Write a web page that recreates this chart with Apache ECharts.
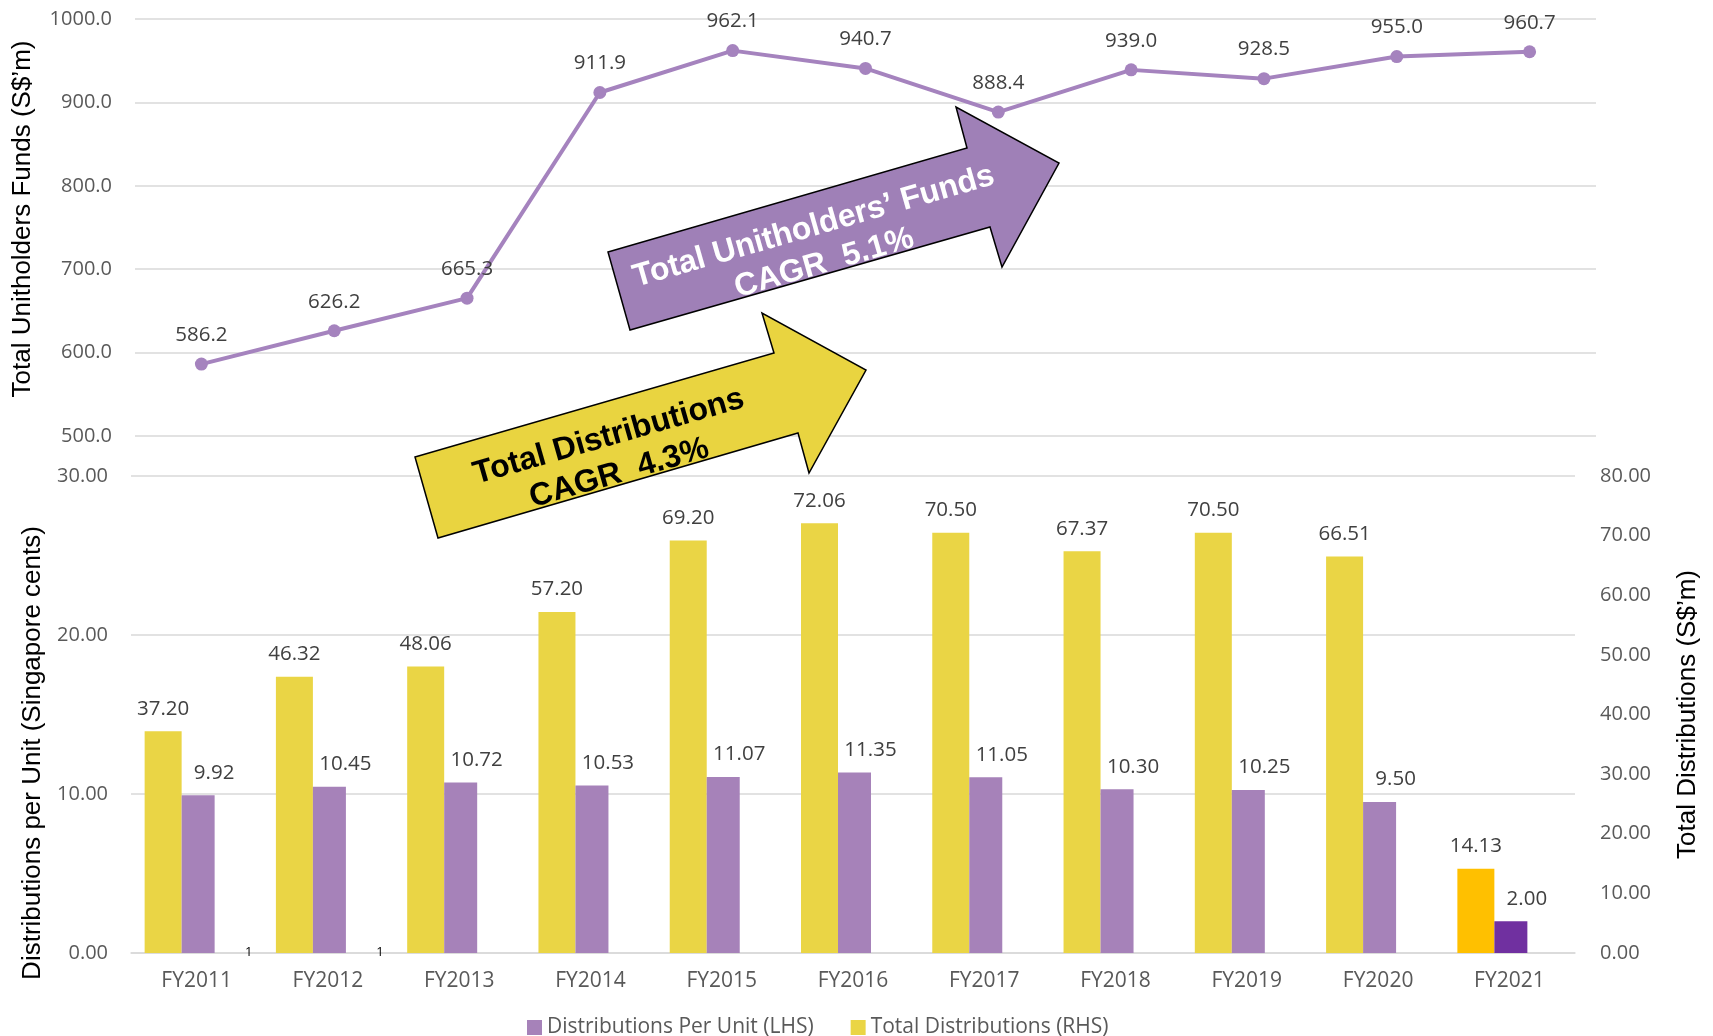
<!DOCTYPE html>
<html>
<head>
<meta charset="utf-8">
<title>Unitholders' Funds and Distributions FY2011–FY2021</title>
<script src="https://cdn.jsdelivr.net/npm/echarts@6/dist/echarts.min.js"></script>
<style>
  html, body { margin: 0; padding: 0; background: #ffffff; }
  #chart { width: 1713px; height: 1036px; }
</style>
</head>
<body>
<div id="chart"></div>
<script>
// Financial years
const years = ['FY2011', 'FY2012', 'FY2013', 'FY2014', 'FY2015', 'FY2016',
               'FY2017', 'FY2018', 'FY2019', 'FY2020', 'FY2021'];

// Total unitholders' funds, S$ million (top panel line)
const unitholdersFunds = [586.2, 626.2, 665.3, 911.9, 962.1, 940.7, 888.4, 939.0, 928.5, 955.0, 960.7];

// Distributions per unit, Singapore cents (left axis)
const distributionsPerUnit = [9.92, 10.45, 10.72, 10.53, 11.07, 11.35, 11.05, 10.30, 10.25, 9.50, 2.00];

// Total distributions, S$ million (right axis)
const totalDistributions = [37.20, 46.32, 48.06, 57.20, 69.20, 72.06, 70.50, 67.37, 70.50, 66.51, 14.13];

// Footnote markers shown at the base of the category
const footnoteRefs = ['1', '1', '', '', '', '', '', '', '', '', ''];

// Axis ticks
const fundsTicks = { min: 500, max: 1000, step: 100 };
const dpuTicks = { min: 0, max: 30, step: 10 };
const totalTicks = { min: 0, max: 80, step: 10 };

// Axis titles
const fundsTitle = 'Total Unitholders Funds (S$\u2019m)';
const dpuTitle = 'Distributions per Unit (Singapore cents)';
const totalTitle = 'Total Distributions (S$\u2019m)';

// Growth annotations
const fundsCagr = 'Total Unitholders\u2019 Funds\nCAGR  5.1%';
const distCagr = 'Total Distributions\nCAGR  4.3%';

const PURPLE = '#A682B9';
const YELLOW = '#EAD545';
const PARTIAL_YEAR = years.length - 1; // FY2021 shown in highlight colours
const FONT = '"Open Sans", "Noto Sans", sans-serif';
const TITLE_FONT = '"Liberation Sans", Arial, sans-serif';
const GRID = '#D9D9D9';
const AXIS_TEXT = '#595959';
const LABEL_TEXT = '#404040';
const LABEL_SIZE = 20.5;

const chart = echarts.init(document.getElementById('chart'), null, { renderer: 'canvas' });

const ang = 16 * Math.PI / 180;

function axisTitle(text, x, y) {
  return {
    type: 'text', z: 50, x: x, y: y, rotation: Math.PI / 2,
    style: {
      text: text, fill: '#000000', font: '26px ' + TITLE_FONT,
      align: 'center', verticalAlign: 'middle',
      textAlign: 'center', textVerticalAlign: 'middle'
    }
  };
}

const option = {
  backgroundColor: '#ffffff',
  animation: false,
  textStyle: { fontFamily: FONT },
  grid: [
    { left: 135, right: 117, top: 19, height: 417 },
    { left: 131, right: 138, top: 476, height: 477 }
  ],
  legend: {
    left: 522,
    top: 1012,
    itemWidth: 15,
    itemHeight: 15,
    itemGap: 37,
    icon: 'rect',
    textStyle: { fontFamily: FONT, fontSize: 21, color: AXIS_TEXT },
    data: ['Distributions Per Unit (LHS)', 'Total Distributions (RHS)']
  },
  xAxis: [
    {
      type: 'category', gridIndex: 0, data: years, boundaryGap: true,
      axisLine: { show: false }, axisTick: { show: false }, axisLabel: { show: false }
    },
    {
      type: 'category', gridIndex: 1, data: years, boundaryGap: true,
      axisLine: { show: true, lineStyle: { color: GRID, width: 1.5 } },
      axisTick: { show: false },
      axisLabel: { fontFamily: FONT, fontSize: 21, color: AXIS_TEXT, margin: 18 }
    }
  ],
  yAxis: [
    {
      type: 'value', gridIndex: 0,
      min: fundsTicks.min, max: fundsTicks.max, interval: fundsTicks.step,
      axisLine: { show: false }, axisTick: { show: false },
      axisLabel: { fontFamily: FONT, fontSize: 20, color: AXIS_TEXT, margin: 23,
                   formatter: v => v.toFixed(1) },
      splitLine: { lineStyle: { color: GRID, width: 1.5 } }
    },
    {
      type: 'value', gridIndex: 1,
      min: dpuTicks.min, max: dpuTicks.max, interval: dpuTicks.step,
      axisLine: { show: false }, axisTick: { show: false },
      axisLabel: { fontFamily: FONT, fontSize: 20, color: AXIS_TEXT, margin: 23,
                   formatter: v => v.toFixed(2) },
      splitLine: { lineStyle: { color: GRID, width: 1.5 } }
    },
    {
      type: 'value', gridIndex: 1, position: 'right',
      min: totalTicks.min, max: totalTicks.max, interval: totalTicks.step,
      name: totalTitle,
      nameLocation: 'middle', nameRotate: 90, nameGap: 100,
      nameTextStyle: { fontFamily: TITLE_FONT, fontSize: 26, color: '#000000' },
      axisLine: { show: false }, axisTick: { show: false },
      axisLabel: { fontFamily: FONT, fontSize: 20, color: AXIS_TEXT, margin: 25,
                   formatter: v => v.toFixed(2) },
      splitLine: { show: false }
    }
  ],
  series: [
    {
      name: 'Total Unitholders Funds',
      type: 'line',
      xAxisIndex: 0, yAxisIndex: 0,
      data: unitholdersFunds,
      symbol: 'circle', symbolSize: 13,
      lineStyle: { color: '#A583BE', width: 4 },
      itemStyle: { color: '#A583BE' },
      label: {
        show: true, position: 'top', distance: 12,
        fontFamily: FONT, fontSize: LABEL_SIZE, color: LABEL_TEXT,
        formatter: p => p.value.toFixed(1)
      },
      z: 3
    },
    {
      name: 'Total Distributions (RHS)',
      type: 'bar',
      xAxisIndex: 1, yAxisIndex: 2,
      barWidth: 37, barGap: '0%',
      itemStyle: { color: YELLOW },
      data: totalDistributions.map((v, i) =>
        i === PARTIAL_YEAR ? { value: v, itemStyle: { color: '#FFC000' } } : v),
      label: {
        show: true, position: 'top', distance: 12,
        fontFamily: FONT, fontSize: LABEL_SIZE, color: LABEL_TEXT,
        formatter: p => Number(p.value).toFixed(2)
      }
    },
    {
      name: 'Distributions Per Unit (LHS)',
      type: 'bar',
      xAxisIndex: 1, yAxisIndex: 1,
      barWidth: 33, barGap: '0%',
      itemStyle: { color: PURPLE },
      data: distributionsPerUnit.map((v, i) =>
        i === PARTIAL_YEAR ? { value: v, itemStyle: { color: '#7030A0' } } : v),
      label: {
        show: true, position: 'top', distance: 12, offset: [16, 0],
        fontFamily: FONT, fontSize: LABEL_SIZE, color: LABEL_TEXT,
        formatter: p => Number(p.value).toFixed(2)
      }
    },
    {
      name: 'Footnote',
      type: 'bar',
      xAxisIndex: 1, yAxisIndex: 1,
      barWidth: 34, barGap: '0%',
      itemStyle: { color: 'rgba(0,0,0,0)' },
      data: footnoteRefs.map(r => (r ? 0 : '-')),
      label: {
        show: true, position: 'inside', offset: [17, -1],
        fontFamily: FONT, fontSize: 13, color: '#000000',
        formatter: p => footnoteRefs[p.dataIndex]
      },
      silent: true
    }
  ],
  graphic: [
    axisTitle(fundsTitle, 23, 219),
    axisTitle(dpuTitle, 33, 753),
    {
      type: 'polygon', z: 100,
      shape: { points: [[608, 252], [967, 148], [956, 107], [1059, 163], [1002, 267], [990, 227], [630, 330]] },
      style: { fill: '#9F80B7', stroke: '#000000', lineWidth: 1.5 }
    },
    {
      type: 'text', z: 101,
      x: 819, y: 245, rotation: ang,
      style: {
        text: fundsCagr, fill: '#ffffff',
        font: 'bold 32px ' + TITLE_FONT, lineHeight: 38,
        align: 'center', verticalAlign: 'middle',
        textAlign: 'center', textVerticalAlign: 'middle'
      }
    },
    {
      type: 'polygon', z: 100,
      shape: { points: [[415, 457], [774, 353], [762, 313], [866, 370], [809, 473], [798, 433], [438, 538]] },
      style: { fill: '#E9D440', stroke: '#000000', lineWidth: 1.5 }
    },
    {
      type: 'text', z: 101,
      x: 614, y: 455, rotation: ang,
      style: {
        text: distCagr, fill: '#000000',
        font: 'bold 32px ' + TITLE_FONT, lineHeight: 38,
        align: 'center', verticalAlign: 'middle',
        textAlign: 'center', textVerticalAlign: 'middle'
      }
    }
  ]
};

chart.setOption(option);
</script>
</body>
</html>
